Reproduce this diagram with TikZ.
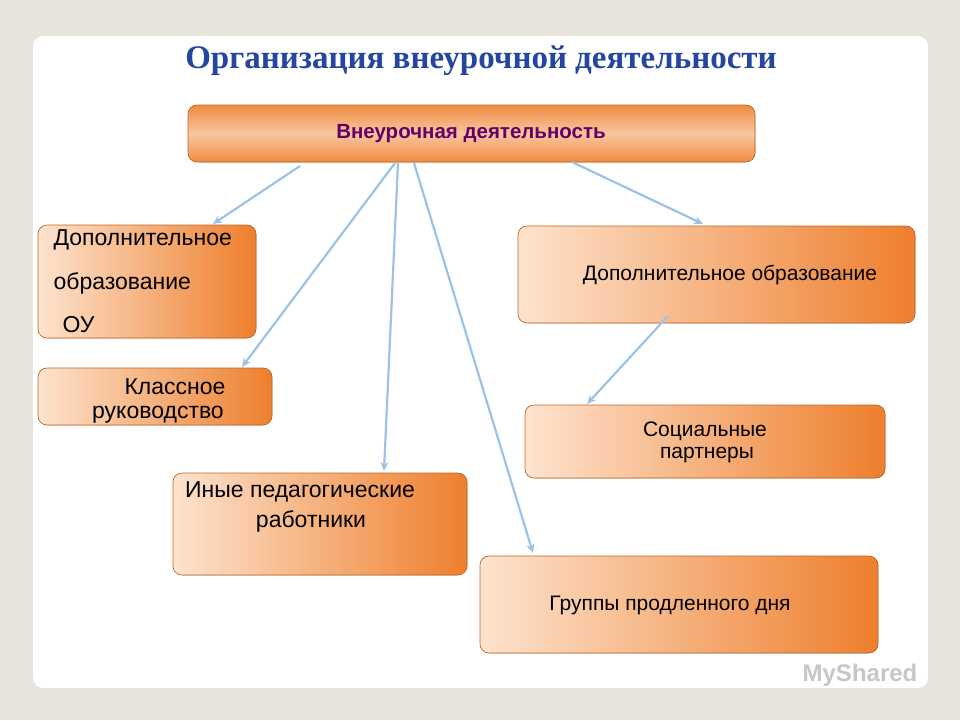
\documentclass[tikz,border=0pt]{standalone}
\usepackage{fontspec}
\setmainfont{Liberation Sans}
\newfontfamily\titlefont{Liberation Serif}
\usetikzlibrary{arrows.meta}
\definecolor{bg}{HTML}{E8E4DB}
\definecolor{org}{HTML}{EE7F2D}
\definecolor{lite}{HTML}{FDE3CE}
\definecolor{arr}{HTML}{9CC3E6}
\definecolor{ttl}{HTML}{2446A0}
\begin{document}
\begin{tikzpicture}[x=1pt,y=-1pt,
  box/.style={draw=org!80!black,line width=0.6pt,rounded corners=9pt,left color=lite,right color=org},
  lbl/.style={font=\fontsize{23}{26}\selectfont,align=center},
  sml/.style={font=\fontsize{21}{24}\selectfont},
  conn/.style={draw=arr,line width=2.2pt,-{Stealth[length=9pt,width=8pt]}}]
\fill[bg] (0,0) rectangle (960,720);
\fill[white,rounded corners=10pt] (33,36) rectangle (928,688);
\node[font=\titlefont\bfseries\fontsize{33}{36}\selectfont,text=ttl] (title) at (481,61) {Организация внеурочной деятельности};
\fill[box,top color=org!90,bottom color=org!90,middle color=lite!70!org] (188,105) rectangle (755,162);
\node[font=\bfseries\fontsize{20.5}{23}\selectfont,text=violet!80!black] (top) at (471,134) {Внеурочная деятельность};
\fill[box] (38,225) rectangle (256,338);
\node[lbl,anchor=west] (d1) at (50,240) {Дополнительное};
\node[lbl,anchor=west] (d2) at (50,283) {образование};
\node[lbl,anchor=west] (d3) at (59,325) {ОУ};
\fill[box] (38,368) rectangle (272,425);
\node[lbl] (k1) at (175,387) {Классное};
\node[lbl] (k2) at (158,415) {руководство};
\fill[box] (173,473) rectangle (467,575);
\node[lbl] (i1) at (300,492) {Иные педагогические};
\node[lbl] (i2) at (311,521) {работники};
\fill[box] (518,226) rectangle (915,323);
\node[sml] (dr) at (730,275) {Дополнительное образование};
\fill[box] (525,405) rectangle (885,478);
\node[sml] (s1) at (705,431) {Социальные};
\node[sml] (s2) at (707,455) {партнеры};
\fill[box] (480,556) rectangle (878,653);
\node[sml] (g) at (670,605) {Группы продленного дня};
\coordinate (a1s) at (300,166); \coordinate (a1e) at (213,224);
\coordinate (a2s) at (395,163); \coordinate (a2e) at (242,367);
\coordinate (a3s) at (398,163); \coordinate (a3e) at (384,471);
\coordinate (a4s) at (414,163); \coordinate (a4e) at (533,553);
\coordinate (a5s) at (572,162); \coordinate (a5e) at (703,224);
\coordinate (a6s) at (668,316); \coordinate (a6e) at (587,404);
\foreach \i in {1,...,6} \draw[conn] (a\i s) -- (a\i e);
\node[font=\bfseries\fontsize{24}{26}\selectfont,text=gray!45] (ms) at (860,675) {MyShared};
\end{tikzpicture}
\end{document}
